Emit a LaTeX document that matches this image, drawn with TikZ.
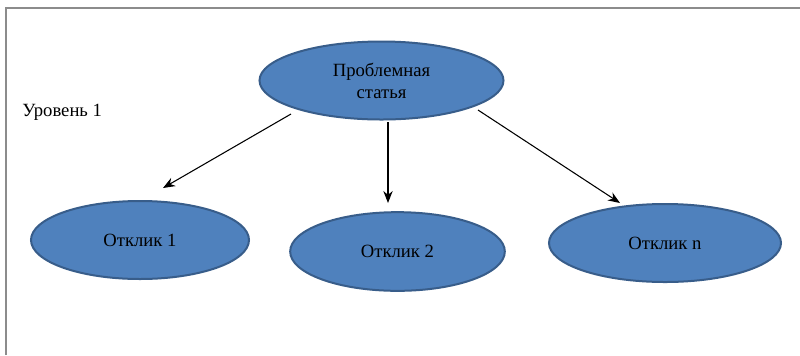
\documentclass[tikz,border=0pt]{standalone}
\usepackage{fontspec}
\setmainfont{Liberation Serif}
\usetikzlibrary{shapes.geometric,arrows.meta}
\definecolor{ellfill}{HTML}{4F81BD}
\definecolor{elldraw}{HTML}{385D8A}
\definecolor{framegray}{HTML}{8C8C8C}
\tikzset{
  bubble/.style={ellipse, fill=ellfill, draw=elldraw, line width=1.5pt, inner sep=0pt,
    minimum height=58.5pt, font=\fontsize{14}{16.5}\selectfont, align=center},
  link/.style={-{Stealth[length=9pt,width=7pt]}, line width=0.8pt},
  lbl/.style={font=\fontsize{14}{16.5}\selectfont, inner sep=0pt, anchor=west}
}
\begin{document}
\begin{tikzpicture}[x=0.75pt,y=-0.75pt]
\useasboundingbox (0,0) rectangle (800,355);
\fill[white] (0,0) rectangle (800,355);
\draw[framegray, line width=1.1pt] (6,355) -- (6,8) -- (800,8);
\node[bubble, minimum width=183pt] (top) at (381.5,80.5) {Проблемная\\статья};
\node[bubble, minimum width=163.5pt] (r1) at (140,240) {Отклик 1};
\node[bubble, minimum width=161pt, minimum height=59pt] (r2) at (397.5,251.5) {Отклик 2};
\node[bubble, minimum width=174pt] (rn) at (665,243) {Отклик n};
\node[lbl] (lvl) at (22,112) {Уровень 1};
\coordinate (s1) at (291,114);
\coordinate (e1) at (163,188);
\coordinate (s2) at (388,122);
\coordinate (e2) at (388,203);
\coordinate (s3) at (478,110);
\coordinate (e3) at (620,203);
\draw[link] (s1) -- (e1);
\draw[link] (s2) -- (e2);
\draw[link] (s3) -- (e3);
\end{tikzpicture}
\end{document}
